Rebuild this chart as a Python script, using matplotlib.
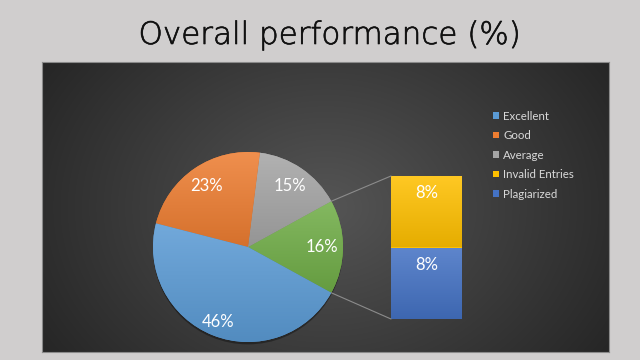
import numpy as np
import matplotlib
matplotlib.use("Agg")
import matplotlib.pyplot as plt
import matplotlib.patheffects as pe
from matplotlib.colors import LinearSegmentedColormap, to_rgb
from matplotlib.patches import Patch, Circle
from matplotlib.patches import ConnectionPatch

# ---------------- data ----------------
title = "Overall performance (%)"
pie_categories = ["Excellent", "Good", "Average"]
pie_values = [46, 23, 15]
bar_categories = ["Plagiarized", "Invalid Entries"]   # bottom to top
bar_values = [8, 8]
legend_order = ["Excellent", "Good", "Average", "Invalid Entries", "Plagiarized"]

colors = {
    "Excellent": "#5b9bd5",
    "Good": "#ed7d31",
    "Average": "#a5a5a5",
    "Other": "#70ad47",
    "Invalid Entries": "#ffc000",
    "Plagiarized": "#4472c4",
}

W, H = 640, 360
fig = plt.figure(figsize=(6.4, 3.6), dpi=100, facecolor="#d0cece")

def px_axes(left, top, right, bottom):
    return fig.add_axes([left / W, (H - bottom) / H, (right - left) / W, (bottom - top) / H])

# ---------------- panel with radial gradient ----------------
pl, pt, pr, pb = 42, 62, 609, 352
axp = px_axes(pl, pt, pr, pb)
ny, nx = 290, 567
yy, xx = np.mgrid[0:ny, 0:nx]
cx, cy = nx * 0.5, ny * 0.5
d = np.sqrt(((xx - cx) / (nx * 0.62)) ** 2 + ((yy - cy) / (ny * 0.95)) ** 2)
d = np.clip(d, 0, 1)
c_in = np.array(to_rgb("#555555"))
c_out = np.array(to_rgb("#242424"))
img = c_in[None, None, :] * (1 - d[..., None]) + c_out[None, None, :] * d[..., None]
axp.imshow(img, extent=[0, 1, 0, 1], aspect="auto", interpolation="bilinear")
axp.set_xticks([]); axp.set_yticks([])
for s in axp.spines.values():
    s.set_color("#8a8a8a"); s.set_linewidth(0.8)
axp.set_xlim(0, 1); axp.set_ylim(0, 1)

def grad_cmap(base):
    b = np.array(to_rgb(base))
    light = b + (1 - b) * 0.14
    dark = b * 0.9
    return LinearSegmentedColormap.from_list("g", [dark, light])

gvec = np.linspace(0, 1, 256).reshape(-1, 1)

# ---------------- pie ----------------
other_total = sum(bar_values)
vals = [other_total, pie_values[2], pie_values[1], pie_values[0]]
names = ["Other", "Average", "Good", "Excellent"]
R = 95
pcx, pcy = 248, 247
S = 2.5 * R
axpie = fig.add_axes([(pcx - S / 2) / W, (H - pcy - S / 2) / H, S / W, S / H])
axpie.patch.set_alpha(0)
half = 360 * other_total / sum(vals) / 2
# drop shadow
axpie.add_patch(Circle((0.0, -0.025), 1.0, color="black", alpha=0.35, zorder=0.5, lw=0))
wedges, texts, autotexts = axpie.pie(
    vals, startangle=-half, counterclock=True,
    colors=[colors[n] for n in names],
    autopct=lambda p: f"{p:.0f}%", pctdistance=0.78,
    wedgeprops=dict(linewidth=0, edgecolor="none"),
    textprops=dict(color="white", fontsize=12, family="Lato"),
)
for w, n in zip(wedges, names):
    bb = w.get_path().get_extents()
    im = axpie.imshow(gvec, extent=[bb.x0, bb.x1, bb.y0, bb.y1], origin="lower",
                      cmap=grad_cmap(colors[n]), aspect="auto", zorder=1.5,
                      interpolation="bilinear")
    im.set_clip_path(w)
for t, n in zip(autotexts, names):
    t.set_zorder(5)
    if n == "Excellent":
        x, y = t.get_position()
        t.set_position((x * 0.85 / 0.78, y * 0.85 / 0.78))
axpie.set_xlim(-1.25, 1.25); axpie.set_ylim(-1.25, 1.25)
axpie.set_aspect("equal")
axpie.axis("off")

# ---------------- bar ----------------
axbar = px_axes(391, 176, 462, 319)
axbar.patch.set_alpha(0)
bottom = 0
for n, v in zip(bar_categories, bar_values):
    rect = axbar.bar([0], [v], bottom=bottom, width=1.0, color=colors[n], lw=0)[0]
    im = axbar.imshow(gvec, extent=[-0.5, 0.5, bottom, bottom + v], origin="lower",
                      cmap=grad_cmap(colors[n]), aspect="auto", zorder=1.5,
                      interpolation="bilinear")
    im.set_clip_path(rect)
    axbar.annotate(f"{v}%", xy=(0, bottom + v), xytext=(0, -17), textcoords="offset pixels",
                   ha="center", va="center", color="white", fontsize=12, family="Lato", zorder=5)
    bottom += v
axbar.set_xlim(-0.5, 0.5); axbar.set_ylim(0, bottom)
axbar.axis("off")

# connectors
for ang, yb in [(half, bottom), (-half, 0)]:
    a = np.deg2rad(ang)
    cp = ConnectionPatch(xyA=(np.cos(a), np.sin(a)), coordsA=axpie.transData,
                         xyB=(-0.5, yb), coordsB=axbar.transData,
                         color="#8c8c8c", lw=0.8, zorder=3)
    fig.add_artist(cp)

# ---------------- legend ----------------
handles = [Patch(facecolor=colors[n], edgecolor="none") for n in legend_order]
fig.legend(handles, legend_order, loc="upper left", bbox_to_anchor=(493 / W, 1 - 110.5 / H),
           frameon=False, handlelength=0.48, handleheight=0.48,
           handletextpad=0.42, labelspacing=0.74, borderpad=0, borderaxespad=0,
           labelcolor="#d9d9d9", prop=dict(family="Lato", size=8.3))

# ---------------- title ----------------
fig.text(330 / W, 1 - 44 / H, title, ha="center", va="baseline", fontsize=22.3,
         family="DejaVu Sans", fontweight="light", color="#111111",
         path_effects=[pe.withStroke(linewidth=0.45, foreground="#111111")])

fig.savefig("out.png", dpi=100, facecolor=fig.get_facecolor())
